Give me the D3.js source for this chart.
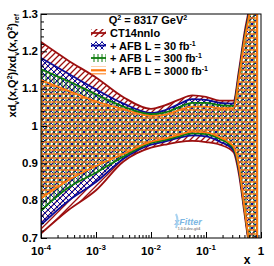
<!DOCTYPE html>
<html>
<head>
<meta charset="utf-8">
<script src="https://cdn.jsdelivr.net/npm/d3@7"></script>
<style>
body { margin: 0; background: #fff; }
text { font-family: "Liberation Sans", Arial, sans-serif; font-weight: bold; fill: #000; }
</style>
</head>
<body>
<div id="chart"></div>
<script>
// x points of the bands
const xValues = [0.0001, 0.000316, 0.001, 0.00316, 0.01, 0.0178, 0.0316, 0.0562, 0.1, 0.178, 0.316, 0.398, 0.501, 0.631, 0.794, 0.851];

const ct14Up    = [1.225, 1.175, 1.130, 1.077, 1.046, 1.055, 1.070, 1.082, 1.078, 1.068, 1.068, 1.150, 1.250, 1.330, 1.450, 1.500];
const ct14Lo    = [0.712, 0.775, 0.828, 0.905, 0.942, 0.950, 0.957, 0.960, 0.957, 0.950, 0.930, 0.870, 0.765, 0.660, 0.550, 0.520];
const afb30Up   = [1.182, 1.140, 1.098, 1.060, 1.035, 1.042, 1.058, 1.072, 1.070, 1.062, 1.060, 1.140, 1.240, 1.320, 1.440, 1.480];
const afb30Lo   = [0.735, 0.800, 0.850, 0.912, 0.950, 0.958, 0.968, 0.975, 0.972, 0.958, 0.935, 0.880, 0.775, 0.665, 0.560, 0.530];
const afb300Up  = [1.152, 1.120, 1.085, 1.052, 1.032, 1.036, 1.050, 1.062, 1.062, 1.056, 1.054, 1.135, 1.235, 1.315, 1.435, 1.475];
const afb300Lo  = [0.773, 0.835, 0.875, 0.918, 0.955, 0.962, 0.972, 0.980, 0.978, 0.965, 0.940, 0.885, 0.778, 0.668, 0.563, 0.533];
const afb3000Up = [1.123, 1.094, 1.066, 1.045, 1.027, 1.030, 1.042, 1.052, 1.052, 1.048, 1.048, 1.130, 1.230, 1.310, 1.430, 1.470];
const afb3000Lo = [0.806, 0.855, 0.893, 0.925, 0.958, 0.966, 0.976, 0.985, 0.983, 0.970, 0.945, 0.890, 0.780, 0.670, 0.565, 0.535];

const seriesNames = ["CT14nnlo", "+ AFB L = 30 fb", "+ AFB L = 300 fb", "+ AFB L = 3000 fb"];
const seriesColors = ["#9c0f0f", "#0b0b99", "#0c7b0c", "#ff7a10"];

const xTicks = [1e-4, 1e-3, 1e-2, 1e-1, 1];
const xTickBase = ["10", "10", "10", "10", "1"];
const xTickExp = ["-4", "-3", "-2", "-1", ""];
const yTicks = [0.7, 0.8, 0.9, 1, 1.1, 1.2, 1.3];
const yTickLabels = ["0.7", "0.8", "0.9", "1", "1.1", "1.2", "1.3"];

const width = 274, height = 266;
const padL = 41, padR = 261, padT = 14, padB = 238;

const svg = d3.select("#chart").append("svg")
    .attr("width", width).attr("height", height);
svg.append("rect").attr("width", width).attr("height", height).attr("fill", "#fff");

const x = d3.scaleLog().domain([1e-4, 1]).range([padL, padR]);
const y = d3.scaleLinear().domain([0.7, 1.3]).range([padB, padT]);

// hatch patterns, one per band
const defs = svg.append("defs");
function pattern(id, size, d, color, sw) {
    defs.append("pattern").attr("id", id).attr("patternUnits", "userSpaceOnUse")
        .attr("width", size).attr("height", size)
        .append("path").attr("d", d).attr("stroke", color).attr("stroke-width", sw).attr("fill", "none");
}
pattern("hRed", 6, "M0,6 L6,0 M-1,1 L1,-1 M5,7 L7,5", seriesColors[0], 1.3);
pattern("hBlue", 6, "M0,6 L6,0 M-1,1 L1,-1 M5,7 L7,5 M0,0 L6,6 M-1,5 L1,7 M5,-1 L7,1", seriesColors[1], 1);
pattern("hGreen", 4, "M2,0 L2,4", seriesColors[2], 1);
pattern("hOrange", 4, "M0,2 L4,2", seriesColors[3], 1.4);
const fills = ["url(#hRed)", "url(#hBlue)", "url(#hGreen)", "url(#hOrange)"];

defs.append("clipPath").attr("id", "plotClip")
    .append("rect").attr("x", padL).attr("y", padT).attr("width", padR - padL).attr("height", padB - padT);

const bands = [
    [ct14Up, ct14Lo],
    [afb30Up, afb30Lo],
    [afb300Up, afb300Lo],
    [afb3000Up, afb3000Lo]
];

const area = d3.area()
    .x(d => x(d.x))
    .y0(d => y(d.lo))
    .y1(d => y(d.hi))
    .curve(d3.curveMonotoneX);

const plot = svg.append("g").attr("clip-path", "url(#plotClip)");
bands.forEach(function(b, i) {
    const pts = xValues.map((xv, j) => ({x: xv, hi: b[0][j], lo: b[1][j]}));
    plot.append("path").datum(pts)
        .attr("d", area)
        .attr("fill", fills[i])
        .attr("stroke", seriesColors[i])
        .attr("stroke-width", 1.8);
});

// frame
svg.append("rect").attr("x", padL).attr("y", padT)
    .attr("width", padR - padL).attr("height", padB - padT)
    .attr("fill", "none").attr("stroke", "#000").attr("stroke-width", 1);

// x ticks
const xMinor = [];
for (let e = -4; e < 0; e++) {
    for (let k = 2; k <= 9; k++) xMinor.push(k * Math.pow(10, e));
}
svg.append("g").attr("transform", `translate(0,${padB})`)
    .call(d3.axisBottom(x).tickValues(xMinor).tickSize(-3).tickFormat(""))
    .call(g => g.select(".domain").remove());
svg.append("g").attr("transform", `translate(0,${padB})`)
    .call(d3.axisBottom(x).tickValues(xTicks).tickSize(-6).tickFormat(""))
    .call(g => g.select(".domain").remove());

// y ticks
const yMinor = d3.range(0.72, 1.3, 0.02).filter(v => Math.abs(v * 10 - Math.round(v * 10)) > 0.01);
svg.append("g").attr("transform", `translate(${padL},0)`)
    .call(d3.axisLeft(y).tickValues(yMinor).tickSize(-3).tickFormat(""))
    .call(g => g.select(".domain").remove());
svg.append("g").attr("transform", `translate(${padL},0)`)
    .call(d3.axisLeft(y).tickValues(yTicks).tickSize(-6).tickFormat(""))
    .call(g => g.select(".domain").remove());
svg.selectAll(".tick line").attr("stroke", "#000");

// tick labels
xTicks.forEach(function(v, i) {
    const t = svg.append("text").attr("x", x(v)).attr("y", 254.5)
        .attr("text-anchor", "middle").attr("font-size", 11.5);
    t.append("tspan").text(xTickBase[i]);
    if (xTickExp[i]) t.append("tspan").attr("dy", -5).attr("font-size", 8).text(xTickExp[i]);
});
yTicks.forEach(function(v, i) {
    svg.append("text").attr("x", 38).attr("y", y(v) + 3.5)
        .attr("text-anchor", "end").attr("font-size", 11.5).text(yTickLabels[i]);
});

// axis titles
svg.append("text").attr("x", 247).attr("y", 264).attr("text-anchor", "middle")
    .attr("font-size", 12).text("x");

const yt = svg.append("text").attr("transform", "translate(16,14) rotate(-90)")
    .attr("text-anchor", "end").attr("font-size", 11);
[["xd", 0, 11], ["v", 3, 7], ["(x,Q", -3, 11], ["2", -4, 7], [")/xd", 4, 11], ["v", 3, 7],
 ["(x,Q", -3, 11], ["2", -4, 7], [")", 4, 11], ["ref", 3, 7]].forEach(function(p) {
    yt.append("tspan").attr("dy", p[1]).attr("font-size", p[2]).text(p[0]);
});

// legend
const hd = svg.append("text").attr("x", 148).attr("y", 24).attr("text-anchor", "middle").attr("font-size", 11);
hd.append("tspan").text("Q");
hd.append("tspan").attr("dy", -4).attr("font-size", 7).text("2");
hd.append("tspan").attr("dy", 4).text(" = 8317 GeV");
hd.append("tspan").attr("dy", -4).attr("font-size", 7).text("2");

const rowY = [37, 49.5, 62, 74.5];
seriesNames.forEach(function(name, i) {
    const cy = rowY[i] - 4;
    svg.append("rect").attr("x", 91).attr("y", cy - 4).attr("width", 15).attr("height", 8)
        .attr("fill", fills[i]);
    svg.append("line").attr("x1", 91).attr("x2", 106).attr("y1", cy).attr("y2", cy)
        .attr("stroke", seriesColors[i]).attr("stroke-width", 1.8);
    const t = svg.append("text").attr("x", 110).attr("y", rowY[i]).attr("font-size", 11);
    t.append("tspan").text(name);
    if (i > 0) t.append("tspan").attr("dy", -4).attr("font-size", 7).text("-1");
});

// xFitter mark
svg.append("text").attr("x", 188).attr("y", 225).attr("text-anchor", "middle")
    .attr("font-size", 9).attr("font-style", "italic").attr("font-weight", "normal")
    .style("fill", "#7db7e3").text("xFitter");
svg.append("text").attr("x", 189).attr("y", 230).attr("text-anchor", "middle")
    .attr("font-size", 3.5).attr("font-weight", "normal")
    .style("fill", "#888").text("1.0.0-dev-git4");
svg.append("path").attr("d", "M176,214 q3,6 0,14").attr("stroke", "#a8d2f0")
    .attr("stroke-width", 2).attr("fill", "none");
</script>
</body>
</html>
